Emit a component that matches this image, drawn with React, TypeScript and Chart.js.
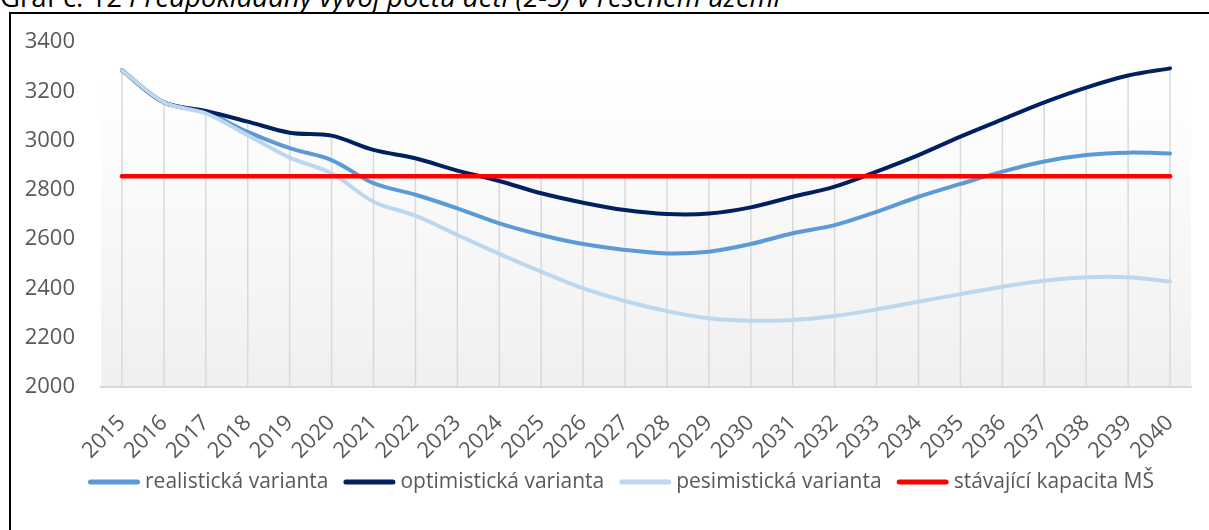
import React, { useEffect, useRef } from "react";
import { Chart, registerables } from "chart.js";

Chart.register(...registerables);

const years = ["2015","2016","2017","2018","2019","2020","2021","2022","2023","2024","2025","2026","2027","2028","2029","2030","2031","2032","2033","2034","2035","2036","2037","2038","2039","2040"];
const realistic = [3285,3155,3115,3035,2969,2921,2827,2780,2725,2664,2617,2580,2556,2542,2549,2580,2624,2657,2711,2772,2824,2874,2915,2941,2951,2948];
const optimistic = [3285,3155,3120,3077,3032,3020,2962,2928,2878,2836,2786,2748,2718,2702,2704,2729,2772,2813,2874,2941,3016,3086,3155,3215,3264,3293];
const pessimistic = [3285,3155,3110,3022,2931,2867,2752,2695,2617,2540,2468,2400,2349,2308,2279,2269,2272,2288,2315,2346,2377,2407,2431,2445,2445,2428];
const capacity = [2855,2855,2855,2855,2855,2855,2855,2855,2855,2855,2855,2855,2855,2855,2855,2855,2855,2855,2855,2855,2855,2855,2855,2855,2855,2855];
const seriesNames = ["realistická varianta","optimistická varianta","pesimistická varianta","stávající kapacita MŠ"];
const yTicks = { min: 2000, max: 3400, step: 200 };

const FONT = "'Open Sans'";
const TEXT = "#595959";

const bgPlugin = {
  id: "plotBg",
  beforeDraw(chart: any) {
    const { ctx, chartArea: a } = chart;
    const g = ctx.createLinearGradient(0, a.top, 0, a.bottom);
    g.addColorStop(0, "#ffffff");
    g.addColorStop(0.12, "#ffffff");
    g.addColorStop(1, "#f0f0f0");
    ctx.save();
    ctx.fillStyle = g;
    ctx.fillRect(a.left, a.top, a.right - a.left, a.bottom - a.top);
    ctx.restore();
  },
};

const dropLines = {
  id: "dropLines",
  beforeDatasetsDraw(chart: any) {
    const { ctx, chartArea: a, scales } = chart;
    const xs = scales.x, ys = scales.y;
    const ds = chart.data.datasets;
    ctx.save();
    ctx.strokeStyle = "#d9d9d9";
    ctx.lineWidth = 1.5;
    for (let i = 0; i < chart.data.labels.length; i++) {
      let m = -Infinity;
      ds.forEach((d: any) => { if (d.data[i] > m) m = d.data[i]; });
      const x = xs.getPixelForValue(i);
      ctx.beginPath();
      ctx.moveTo(x, ys.getPixelForValue(m));
      ctx.lineTo(x, a.bottom);
      ctx.stroke();
    }
    ctx.restore();
  },
};

// Legend drawn below the x axis, centred like the Excel legend
const lineLegend = {
  id: "lineLegend",
  afterDraw(chart: any) {
    const { ctx } = chart;
    const ds = chart.data.datasets;
    const lineW = 52, gap = 5, itemGap = 15, cx = 621, cy = 482;
    ctx.save();
    ctx.font = `21px ${FONT}`;
    ctx.textBaseline = "middle";
    const widths = ds.map((d: any) => ctx.measureText(d.label).width);
    const total = widths.reduce((s: number, w: number) => s + lineW + gap + w, 0) + itemGap * (ds.length - 1);
    let x = cx - total / 2;
    ds.forEach((d: any, i: number) => {
      ctx.strokeStyle = d.borderColor;
      ctx.lineWidth = 5;
      ctx.lineCap = "round";
      ctx.beginPath();
      ctx.moveTo(x + 2.5, cy);
      ctx.lineTo(x + lineW - 2.5, cy);
      ctx.stroke();
      ctx.fillStyle = TEXT;
      ctx.fillText(d.label, x + lineW + gap, cy);
      x += lineW + gap + widths[i] + itemGap;
    });
    ctx.restore();
  },
};

export default function App() {
  const ref = useRef<HTMLCanvasElement>(null);
  useEffect(() => {
    document.body.style.margin = "0";
    const line = (label: string, data: number[], color: string, order: number, w = 4) => ({
      label, data, borderColor: color, backgroundColor: color, borderWidth: w,
      pointRadius: 0, tension: 0.33, borderCapStyle: "round", borderJoinStyle: "round", order,
    });
    const chart = new Chart(ref.current!, {
      type: "line",
      data: {
        labels: years,
        datasets: [
          line(seriesNames[0], realistic, "#5b9bd5", 3),
          line(seriesNames[1], optimistic, "#002060", 2),
          line(seriesNames[2], pessimistic, "#bdd7ee", 1),
          line(seriesNames[3], capacity, "#ff0000", 0, 4.5),
        ] as any,
      },
      options: {
        animation: false,
        responsive: false,
        layout: { padding: { left: 20, right: 18, top: 42, bottom: 66 } },
        plugins: {
          tooltip: { enabled: false },
          legend: { display: false },
        },
        scales: {
          x: {
            offset: true,
            grid: { display: false },
            border: { display: true, color: "#d9d9d9", width: 2 },
            ticks: { font: { family: FONT, size: 22 }, color: TEXT, maxRotation: 45, minRotation: 45, padding: 15 },
            afterFit: (s: any) => { s.height = 77; },
          },
          y: {
            min: yTicks.min, max: yTicks.max,
            grid: { display: false },
            border: { display: false },
            ticks: { stepSize: yTicks.step, font: { family: FONT, size: 22 }, color: TEXT, padding: 18, callback: (v: any) => String(v) },
            afterFit: (s: any) => { s.width = 81; },
          },
        },
      } as any,
      plugins: [bgPlugin, dropLines, lineLegend],
    });
    return () => chart.destroy();
  }, []);
  return (
    <div style={{ position: "relative", width: 1209, height: 530, overflow: "hidden", background: "#fff" }}>
      <div style={{ position: "absolute", left: 0, top: -17, fontFamily: FONT, fontSize: 27.5, lineHeight: "27.5px", color: "#000", whiteSpace: "nowrap" }}>
        Graf č. 12 <i>Předpokládaný vývoj počtu dětí (2-5) v řešeném území</i>
      </div>
      <div style={{ position: "absolute", left: 9, top: 12, width: 1300, height: 600, border: "2px solid #000" }} />
      <canvas ref={ref} width={1209} height={530} style={{ position: "absolute", left: 0, top: 0 }} />
    </div>
  );
}
